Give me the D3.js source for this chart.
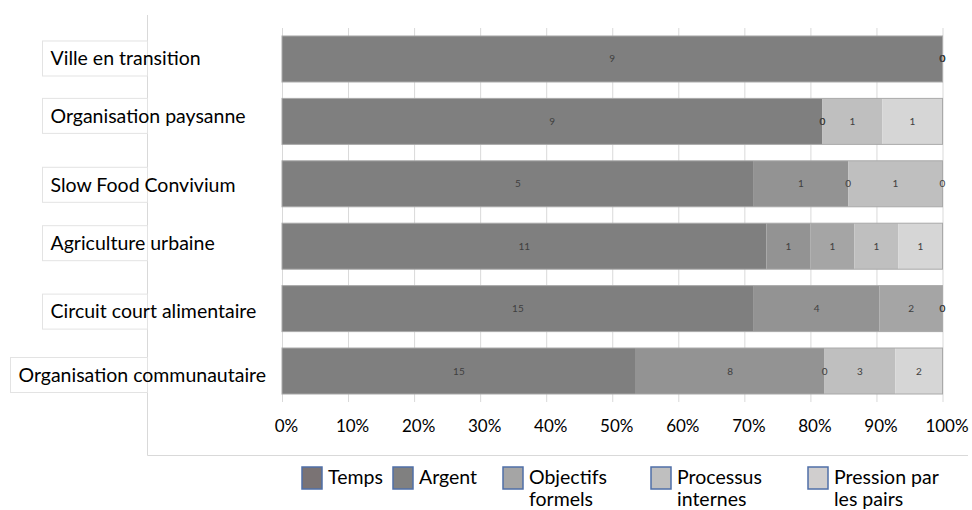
<!DOCTYPE html>
<html><head><meta charset="utf-8">
<script src="https://cdn.jsdelivr.net/npm/d3@7"></script>
<style>
html,body{margin:0;padding:0;background:#fff;}
svg{display:block;}
text{font-family:Lato,"Open Sans",sans-serif;}
</style></head>
<body><svg id="c" width="972" height="510"></svg>
<script>
// ---- data ----
const categories = ["Ville en transition","Organisation paysanne","Slow Food Convivium","Agriculture urbaine","Circuit court alimentaire","Organisation communautaire"];
const seriesNames = ["Temps","Argent","Objectifs formels","Processus internes","Pression par les pairs"];
const temps      = [9, 9, 5, 11, 15, 15];
const argent     = [0, 0, 1, 1, 4, 8];
const objectifs  = [0, 0, 0, 1, 2, 0];
const processus  = [0, 1, 1, 1, 0, 3];
const pression   = [0, 1, 0, 1, 0, 2];
const tickValues = [0, 0.1, 0.2, 0.3, 0.4, 0.5, 0.6, 0.7, 0.8, 0.9, 1];
const legendLines = [["Temps"],["Argent"],["Objectifs","formels"],["Processus","internes"],["Pression par","les pairs"]];

// ---- styles / layout ----
const barColors = ["#7f7f7f","#939393","#a5a5a5","#bfbfbf","#d6d6d6"];
const legendColors = ["#7a7374","#808080","#a5a5a5","#bfbfbf","#d0cece"];
const legendX = [302, 393, 503, 651, 808];
const labelBoxX = [42, 42, 42, 42, 42, 10];
const labelNudge = [-0.5, -5.5, 1, -3, 3, 4];

const table = categories.map((c,i)=>({cat:c,
  "Temps":temps[i],"Argent":argent[i],"Objectifs formels":objectifs[i],
  "Processus internes":processus[i],"Pression par les pairs":pression[i]}));

const svg = d3.select("#c");
const x = d3.scaleLinear().domain([0,1]).range([282,942.5]);
const y = d3.scaleBand().domain(categories).range([28,402]).paddingInner(0.263).paddingOuter(0.128);
const color = d3.scaleOrdinal().domain(seriesNames).range(barColors);

// panel borders (left and bottom)
svg.append("line").attr("x1",147.5).attr("x2",147.5).attr("y1",15).attr("y2",455.5)
  .attr("stroke","#d9d9d9");
svg.append("line").attr("x1",147.5).attr("x2",968).attr("y1",455.5).attr("y2",455.5)
  .attr("stroke","#d9d9d9");

// gridlines + tick labels
const axis = d3.axisBottom(x).tickValues(tickValues).tickFormat(d3.format(".0%"))
  .tickSize(-(402-28)).tickPadding(0);
const gAx = svg.append("g").attr("transform","translate(0,402)").call(axis);
gAx.select(".domain").remove();
gAx.selectAll(".tick line").attr("stroke","#d9d9d9");
gAx.selectAll(".tick text").attr("fill","#000").attr("font-size",17)
  .attr("dy",0).attr("y",30).attr("x",4);

// stacked bars
const stack = d3.stack().keys(seriesNames).offset(d3.stackOffsetExpand);
const series = stack(table);
const gS = svg.append("g").selectAll("g").data(series).join("g")
  .attr("fill",d=>color(d.key));
gS.selectAll("rect").data(d=>d).join("rect")
  .attr("x",d=>x(d[0])).attr("width",d=>x(d[1])-x(d[0]))
  .attr("y",d=>y(d.data.cat)).attr("height",y.bandwidth());
// bar outline
svg.append("g").selectAll("rect").data(categories).join("rect")
  .attr("x",x(0)).attr("width",x(1)-x(0)).attr("y",d=>y(d)).attr("height",y.bandwidth())
  .attr("fill","none").attr("stroke","#a9a9a9").attr("stroke-width",1);

// value labels
const gL = svg.append("g");
series.forEach(s=>{
  gL.selectAll(null).data(s).join("text")
    .attr("x",d=>(x(d[0])+x(d[1]))/2)
    .attr("y",d=>y(d.data.cat)+y.bandwidth()/2)
    .attr("dy","0.35em").attr("text-anchor","middle")
    .attr("font-size",10).attr("fill","#404040")
    .text(d=>d.data[s.key]);
});

// category label boxes
const gC = svg.append("g");
categories.forEach((c,i)=>{
  const cy = y(c)+y.bandwidth()/2+labelNudge[i];
  gC.append("rect").attr("x",labelBoxX[i]+0.5).attr("y",cy-17.5).attr("width",147-labelBoxX[i]).attr("height",35)
    .attr("fill","#fff").attr("stroke","#e3e3e3");
  gC.append("text").attr("x",labelBoxX[i]+8.5).attr("y",cy).attr("dy","0.35em")
    .attr("font-size",19.5).attr("fill","#000").text(c);
});

// legend
const gLeg = svg.append("g");
seriesNames.forEach((s,i)=>{
  gLeg.append("rect").attr("x",legendX[i]).attr("y",467).attr("width",20).attr("height",22)
    .attr("fill",legendColors[i]).attr("stroke","#4f6fa8").attr("stroke-width",1.5);
  const t = gLeg.append("text").attr("x",legendX[i]+26).attr("y",484).attr("font-size",19.5).attr("fill","#000");
  legendLines[i].forEach((ln,j)=>{
    t.append("tspan").attr("x",legendX[i]+26).attr("dy",j===0?0:22).text(ln);
  });
});
</script></body></html>
